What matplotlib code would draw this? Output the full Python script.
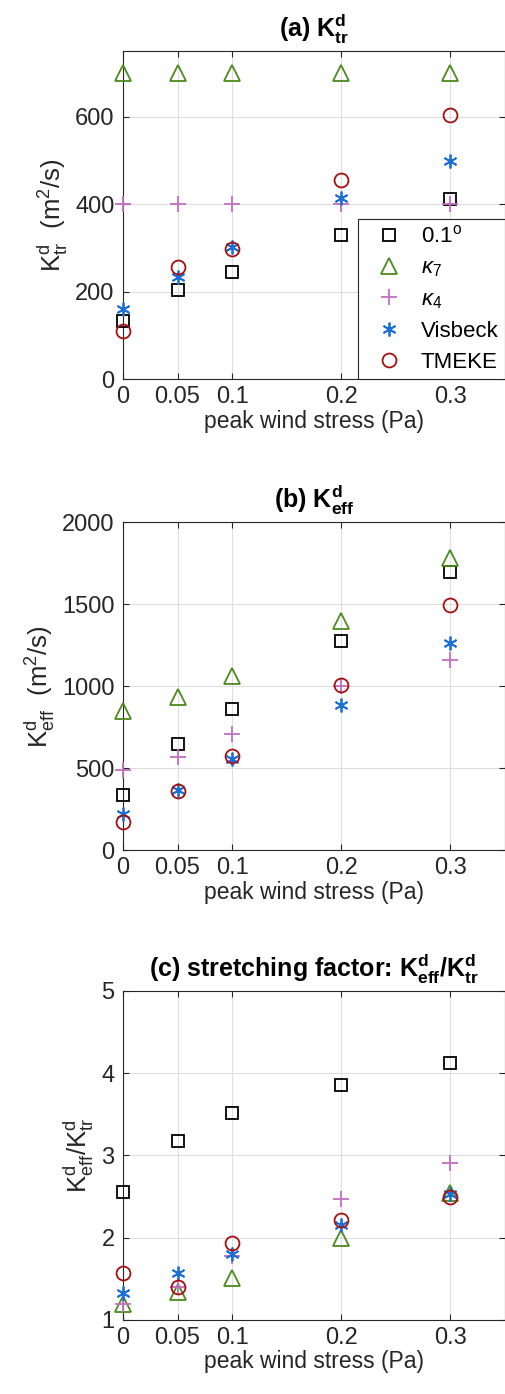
import matplotlib
matplotlib.use("Agg")
import matplotlib.pyplot as plt

# ------------------------------
# dados
# ------------------------------
tau = [0, 0.05, 0.1, 0.2, 0.3]
xticklabels = ["0", "0.05", "0.1", "0.2", "0.3"]

# (a) K_tr
ktr_01 = [133, 204, 245, 330, 412]
ktr_k7 = [700, 700, 700, 700, 700]
ktr_k4 = [400, 400, 400, 400, 400]
ktr_vis = [161, 234, 303, 414, 499]
ktr_tme = [109, 257, 297, 455, 603]

# (b) K_eff
keff_01 = [339, 650, 863, 1277, 1699]
keff_k7 = [849, 934, 1060, 1401, 1781]
keff_k4 = [487, 569, 711, 1005, 1161]
keff_vis = [219, 370, 554, 889, 1265]
keff_tme = [173, 359, 577, 1009, 1496]

# (c) K_eff / K_tr
ratio_01 = [2.56, 3.18, 3.52, 3.86, 4.12]
ratio_k7 = [1.20, 1.34, 1.51, 2.00, 2.54]
ratio_k4 = [1.20, 1.40, 1.78, 2.47, 2.91]
ratio_vis = [1.33, 1.57, 1.80, 2.16, 2.53]
ratio_tme = [1.57, 1.40, 1.93, 2.22, 2.49]

labels = [r"0.1$^\mathrm{o}$", r"$\kappa_7$", r"$\kappa_4$", "Visbeck", "TMEKE"]
cores = ["#000000", "#4C8A1E", "#C070C0", "#1A6FDB", "#A50F0F"]
marcadores = ["s", "^", "+", (6, 2, 0), "o"]
tamanhos = [9, 12, 12, 10, 10]

plt.rcParams["font.family"] = ["Liberation Sans", "DejaVu Sans"]
plt.rcParams["mathtext.fontset"] = "custom"
plt.rcParams["mathtext.rm"] = "Liberation Sans"
plt.rcParams["mathtext.it"] = "Liberation Sans:italic"
plt.rcParams["mathtext.bf"] = "Liberation Sans:bold"

fig = plt.figure(figsize=(5.06, 13.94), dpi=100)

paineis = [
    dict(rect=[0.243, 0.728, 0.755, 0.2353],
         series=[ktr_01, ktr_k7, ktr_k4, ktr_vis, ktr_tme],
         ylim=(0, 750), yticks=[0, 200, 400, 600],
         title=r"(a) $\mathbf{K^{d}_{tr}}$",
         ylabel=r"$\mathrm{K^{d}_{tr}}$  (m$^2$/s)", legenda=True),
    dict(rect=[0.243, 0.390, 0.755, 0.2353],
         series=[keff_01, keff_k7, keff_k4, keff_vis, keff_tme],
         ylim=(0, 2000), yticks=[0, 500, 1000, 1500, 2000],
         title=r"(b) $\mathbf{K^{d}_{eff}}$",
         ylabel=r"$\mathrm{K^{d}_{eff}}$  (m$^2$/s)", legenda=False),
    dict(rect=[0.243, 0.0531, 0.755, 0.236],
         series=[ratio_01, ratio_k7, ratio_k4, ratio_vis, ratio_tme],
         ylim=(1, 5), yticks=[1, 2, 3, 4, 5],
         title=r"(c) stretching factor: $\mathbf{K^{d}_{eff}/K^{d}_{tr}}$",
         ylabel=r"$\mathrm{K^{d}_{eff}/K^{d}_{tr}}$", legenda=False),
]

for p in paineis:
    ax = fig.add_axes(p["rect"])
    for serie, cor, m, ms, lab in zip(p["series"], cores, marcadores, tamanhos, labels):
        ax.plot(tau, serie, linestyle="none", marker=m, markersize=ms,
                markerfacecolor="none", markeredgecolor=cor,
                markeredgewidth=1.3, label=lab, clip_on=False, zorder=3)

    ax.set_xlim(0, 0.35)
    ax.set_ylim(*p["ylim"])
    ax.set_xticks(tau)
    ax.set_xticklabels(xticklabels)
    ax.set_yticks(p["yticks"])
    ax.tick_params(direction="in", top=True, right=True, labelsize=17,
                   colors="#262626", length=4)
    ax.tick_params(axis="x", pad=5)
    ax.tick_params(axis="y", pad=6)
    for s in ax.spines.values():
        s.set_color("#262626")
        s.set_linewidth(0.8)
    ax.grid(True, color="#dedede", linewidth=0.8)
    ax.set_axisbelow(True)

    ax.set_title(p["title"], fontsize=18, fontweight="bold", pad=10)
    ax.set_xlabel("peak wind stress (Pa)", fontsize=16.5, color="#262626", labelpad=1)
    ax.set_ylabel(p["ylabel"], fontsize=18.5, color="#262626", labelpad=4)

    if p["legenda"]:
        leg = ax.legend(loc="lower right", bbox_to_anchor=(1.0, 0.0),
                        borderaxespad=0, fancybox=False, framealpha=1,
                        edgecolor="#262626", fontsize=16, handletextpad=0.3,
                        labelspacing=0.45, borderpad=0.3, handlelength=2.2)
        leg.get_frame().set_linewidth(0.8)

fig.savefig("out.png", dpi=100)
